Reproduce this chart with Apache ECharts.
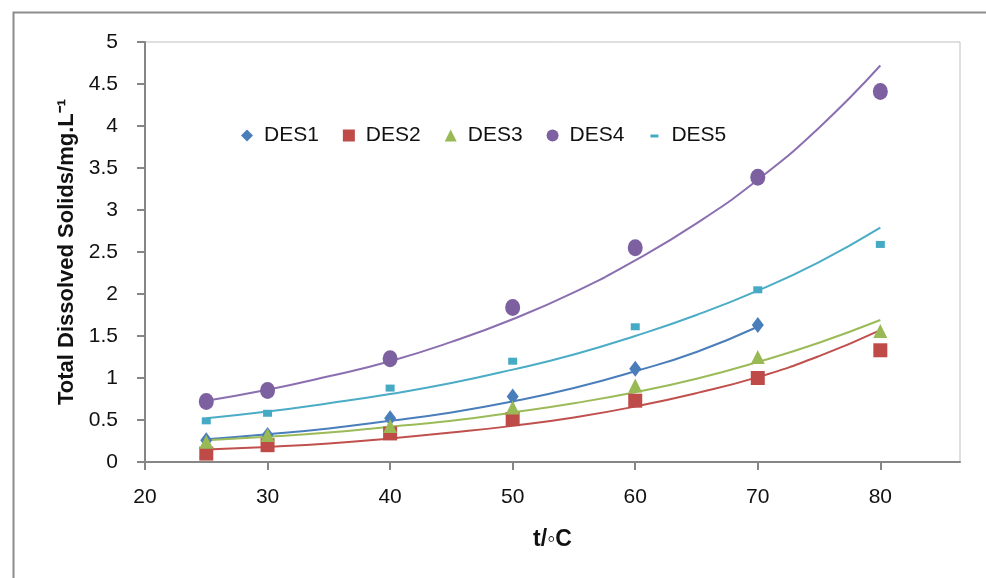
<!DOCTYPE html>
<html>
<head>
<meta charset="utf-8">
<script src="https://cdn.jsdelivr.net/npm/echarts@6/dist/echarts.min.js"></script>
<style>
  html, body { margin: 0; padding: 0; background: #fff; }
  #chart { width: 986px; height: 578px; }
</style>
</head>
<body>
<div id="chart"></div>
<script>
// measured points (t in °C)
const temps = [25, 30, 40, 50, 60, 70, 80];
const temps1 = [25, 30, 40, 50, 60, 70];
const des1 = [0.26, 0.32, 0.52, 0.78, 1.11, 1.63];
const des2 = [0.10, 0.20, 0.34, 0.51, 0.73, 1.00, 1.33];
const des3 = [0.24, 0.32, 0.43, 0.65, 0.91, 1.25, 1.56];
const des4 = [0.72, 0.85, 1.23, 1.84, 2.55, 3.39, 4.41];
const des5 = [0.49, 0.58, 0.88, 1.20, 1.61, 2.05, 2.59];

// trendlines
const trendT = [25, 30, 35, 40, 45, 50, 55, 60, 65, 70, 75, 80];
const trendT1 = [25, 30, 35, 40, 45, 50, 55, 60, 65, 70];
const trend1 = [0.27, 0.33, 0.40, 0.49, 0.59, 0.72, 0.88, 1.08, 1.31, 1.61];
const trend2 = [0.15, 0.18, 0.22, 0.28, 0.35, 0.43, 0.53, 0.66, 0.82, 1.01, 1.26, 1.57];
const trend3 = [0.26, 0.30, 0.35, 0.42, 0.49, 0.59, 0.70, 0.83, 0.99, 1.19, 1.42, 1.69];
const trend4 = [0.73, 0.86, 1.02, 1.20, 1.43, 1.70, 2.02, 2.40, 2.84, 3.36, 3.98, 4.72];
const trend5 = [0.52, 0.60, 0.70, 0.81, 0.94, 1.10, 1.28, 1.50, 1.75, 2.04, 2.38, 2.79];

const xTicks = [20, 30, 40, 50, 60, 70, 80];
const names = ["DES1", "DES2", "DES3", "DES4", "DES5"];
const colors = ["#4a7ebb", "#be4b48", "#98b954", "#7d60a0", "#46aac5"];
const lineColors = ["#4a7ebb", "#c0504d", "#9bbb59", "#8b6fb0", "#4bacc6"];

const pairs = (xs, ys) => xs.map((x, i) => [x, ys[i]]);

const chart = echarts.init(document.getElementById("chart"));

const font = "Liberation Sans";
const gray = "#868686";
// small dash inside a square box (the tiny corner bits only fix the bounds)
const dashIcon = "path://M0,0L0.01,0L0,0.01Z M2,5L10,5L10,8L2,8Z M12,12L11.99,12L12,11.99Z";

function trendSeries(name, xs, ys, idx) {
  return {
    name: name,
    type: "line",
    data: pairs(xs, ys),
    smooth: true,
    showSymbol: false,
    symbol: "none",
    silent: true,
    z: 2,
    lineStyle: { color: lineColors[idx], width: 2 },
    itemStyle: { color: lineColors[idx] }
  };
}

function pointSeries(idx, xs, ys, symbol, size) {
  return {
    name: names[idx],
    type: "scatter",
    data: pairs(xs, ys),
    symbol: symbol,
    symbolSize: size,
    z: 3,
    itemStyle: { color: colors[idx], opacity: 1 }
  };
}

chart.setOption({
  animation: false,
  textStyle: { fontFamily: font },
  graphic: [
    {
      type: "rect",
      left: 11,
      top: 10,
      shape: { width: 1200, height: 800 },
      style: { fill: "none", stroke: "#8c8c8c", lineWidth: 2 },
      silent: true
    }
  ],
  grid: {
    left: 145,
    right: 26,
    top: 42,
    bottom: 116,
    show: true,
    borderColor: "#bfbfbf",
    borderWidth: 1
  },
  legend: {
    left: 236,
    top: 120,
    itemWidth: 12,
    itemHeight: 12,
    itemGap: 24,
    textStyle: { fontSize: 21, color: "#111", fontFamily: font, padding: [0, 0, 0, 6] },
    data: [
      { name: "DES1", icon: "diamond" },
      { name: "DES2", icon: "rect" },
      { name: "DES3", icon: "triangle" },
      { name: "DES4", icon: "circle" },
      { name: "DES5", icon: dashIcon }
    ]
  },
  xAxis: {
    type: "value",
    min: 20,
    max: 86.5,
    interval: 10,
    name: "t/◦C",
    nameLocation: "middle",
    nameGap: 66,
    nameTextStyle: { fontSize: 23, fontWeight: "bold", color: "#111", fontFamily: font },
    splitLine: { show: false },
    axisLine: { show: true, onZero: false, lineStyle: { color: gray, width: 2 } },
    axisTick: { show: true, length: 8, customValues: xTicks, lineStyle: { color: gray, width: 2 } },
    axisLabel: { customValues: xTicks, margin: 25, fontSize: 21, color: "#111" }
  },
  yAxis: {
    type: "value",
    min: 0,
    max: 5,
    interval: 0.5,
    name: "Total Dissolved Solids/mg.L⁻¹",
    nameLocation: "middle",
    nameGap: 66,
    nameTextStyle: { fontSize: 22, fontWeight: "bold", color: "#111", fontFamily: font },
    splitLine: { show: false },
    axisLine: { show: true, lineStyle: { color: gray, width: 2 } },
    axisTick: { show: true, length: 8, lineStyle: { color: gray, width: 2 } },
    axisLabel: { margin: 27, fontSize: 21, color: "#111" }
  },
  series: [
    trendSeries("DES1 trend", trendT1, trend1, 0),
    trendSeries("DES2 trend", trendT, trend2, 1),
    trendSeries("DES3 trend", trendT, trend3, 2),
    trendSeries("DES4 trend", trendT, trend4, 3),
    trendSeries("DES5 trend", trendT, trend5, 4),
    pointSeries(0, temps1, des1, "diamond", [12, 16]),
    pointSeries(1, temps, des2, "rect", 14),
    pointSeries(2, temps, des3, "triangle", 14),
    pointSeries(3, temps, des4, "circle", [15, 17]),
    pointSeries(4, temps, des5, "rect", [9, 7])
  ]
});
</script>
</body>
</html>
